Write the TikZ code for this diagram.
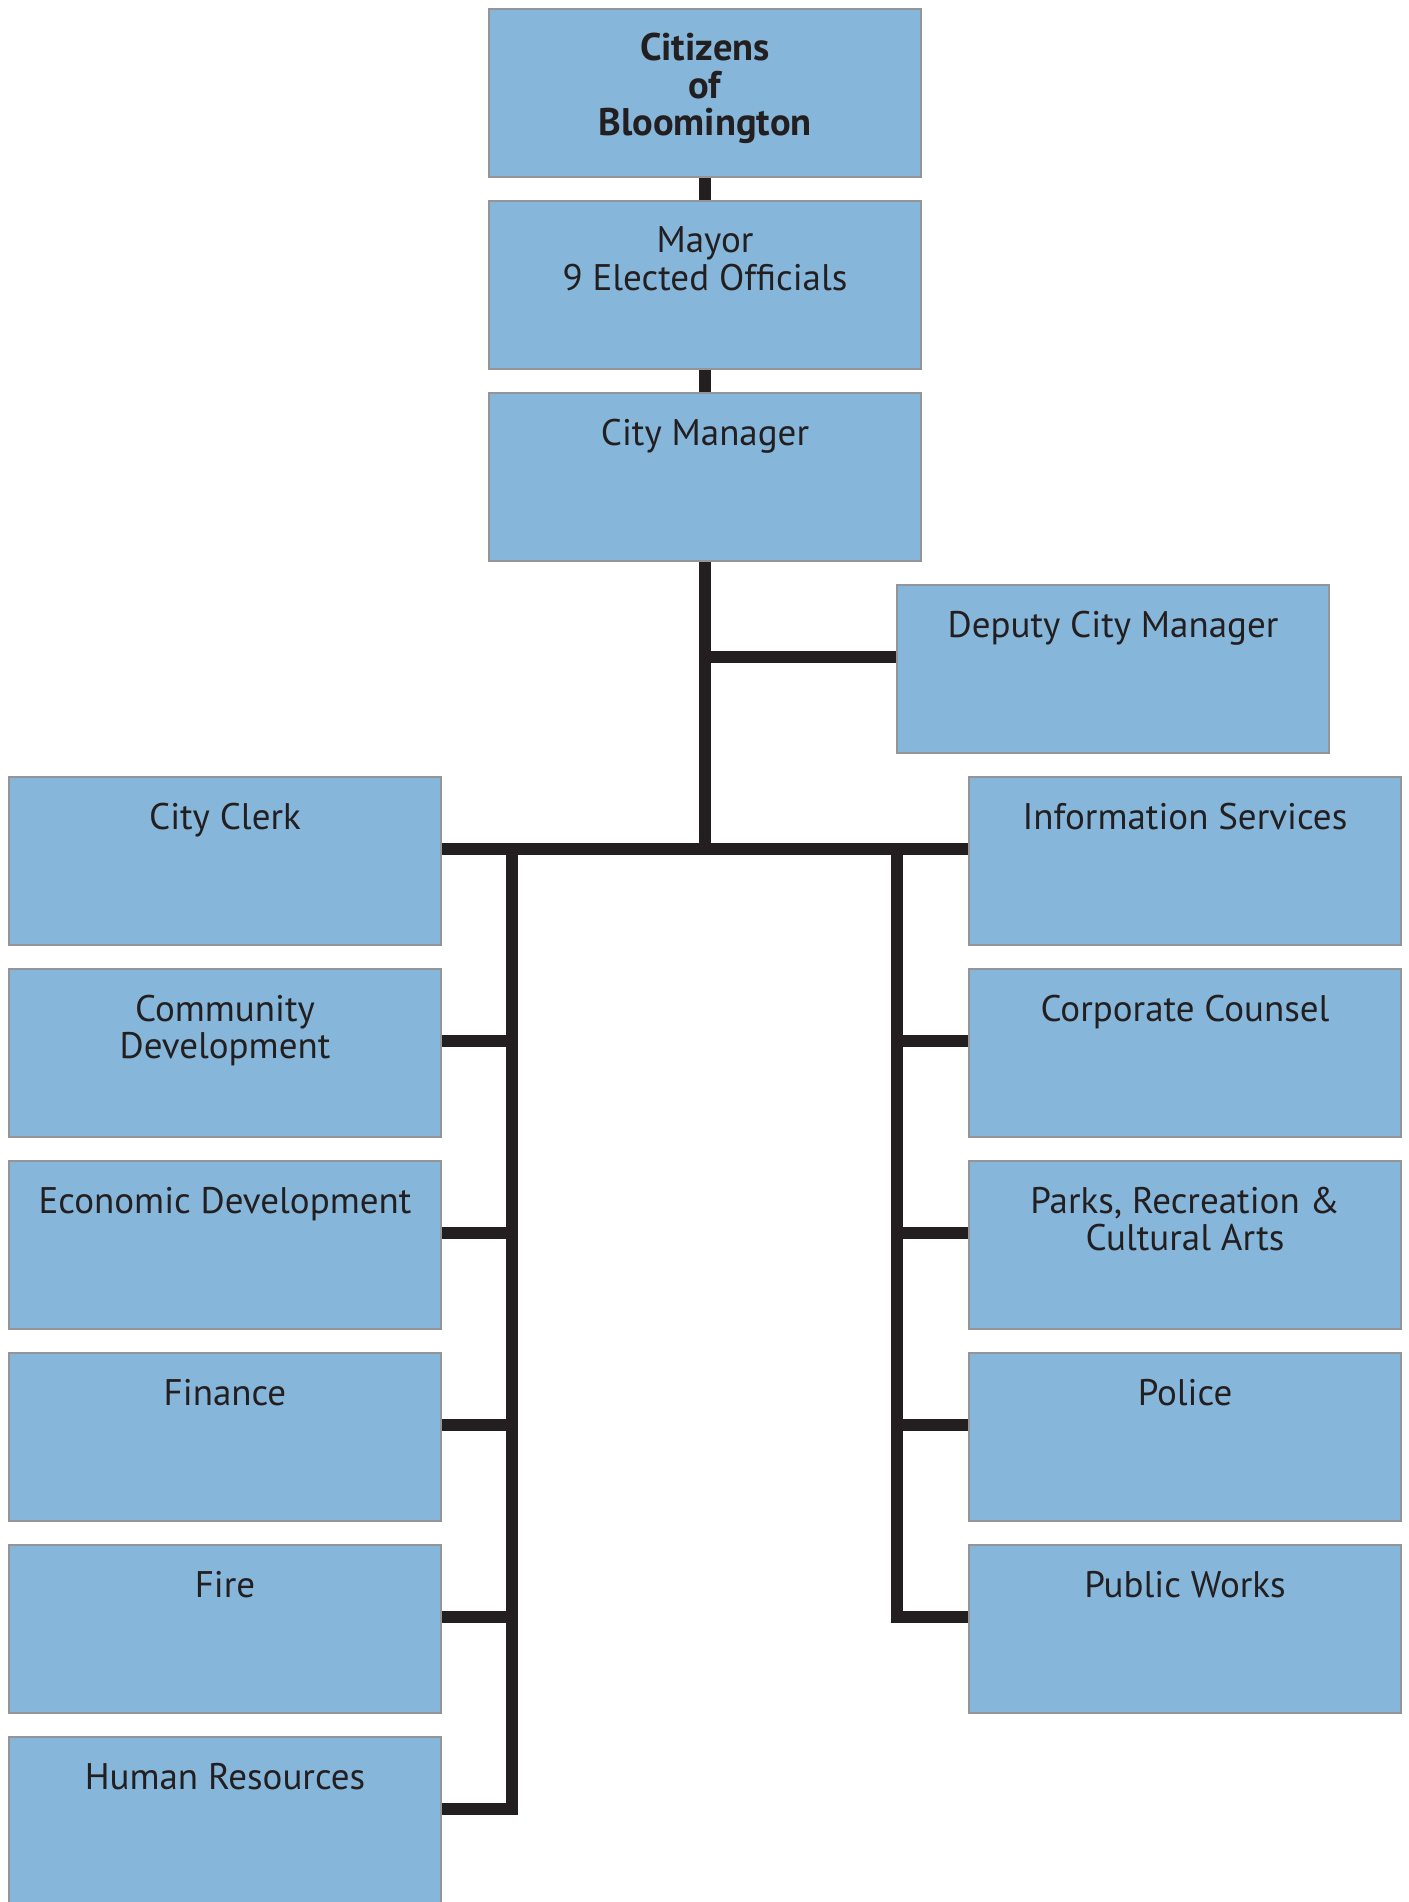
\documentclass[tikz,border=0pt]{standalone}
\usepackage{fontspec}
\setmainfont{PT Sans}
\usetikzlibrary{calc}
\definecolor{boxfill}{HTML}{86B7DB}
\definecolor{boxline}{HTML}{939598}
\definecolor{ink}{HTML}{231F20}
\pgfdeclarelayer{background}
\pgfsetlayers{background,main}
\newcommand\boxlines[1]{\vtop{\halign{\hfil##\hfil\cr#1\crcr}}}
\begin{document}
\begin{tikzpicture}[x=1pt,y=-1pt,
  box/.style={draw=boxline, line width=2.2pt, fill=boxfill, minimum width=432pt,
    minimum height=168pt, inner sep=0pt, outer sep=0pt, anchor=north west},
  lbl/.style={anchor=base, inner sep=0pt, text=ink, font=\fontsize{37}{37.5}\selectfont},
  conn/.style={draw=ink, line width=12.5pt},
]
\useasboundingbox (0,0) rectangle (1408,1902);
% boxes
\node[box] (cit) at (489,9) {};
\node[box] (mayor) at (489,201) {};
\node[box] (cm) at (489,393) {};
\node[box] (dep) at (897,585) {};
\node[box] (clerk) at (9,777) {};
\node[box] (comm) at (9,969) {};
\node[box] (econ) at (9,1161) {};
\node[box] (fin) at (9,1353) {};
\node[box] (fire) at (9,1545) {};
\node[box] (hr) at (9,1737) {};
\node[box] (info) at (969,777) {};
\node[box] (corp) at (969,969) {};
\node[box] (parks) at (969,1161) {};
\node[box] (police) at (969,1353) {};
\node[box] (pw) at (969,1545) {};
% labels
\node[lbl, font=\fontsize{38.5}{37.5}\selectfont\bfseries] (cit-t) at ($(cit.north)+(0,52)$) {\boxlines{Citizens\cr of\cr Bloomington}};
\node[lbl] (mayor-t) at ($(mayor.north)+(0,52)$) {\boxlines{Mayor\cr 9 Elected Officials}};
\node[lbl] (cm-t) at ($(cm.north)+(0,52)$) {City Manager};
\node[lbl] (dep-t) at ($(dep.north)+(0,52)$) {Deputy City Manager};
\node[lbl] (clerk-t) at ($(clerk.north)+(0,52)$) {City Clerk};
\node[lbl] (comm-t) at ($(comm.north)+(0,52)$) {\boxlines{Community\cr Development}};
\node[lbl] (econ-t) at ($(econ.north)+(0,52)$) {Economic Development};
\node[lbl] (fin-t) at ($(fin.north)+(0,52)$) {Finance};
\node[lbl] (fire-t) at ($(fire.north)+(0,52)$) {Fire};
\node[lbl] (hr-t) at ($(hr.north)+(0,52)$) {Human Resources};
\node[lbl] (info-t) at ($(info.north)+(0,52)$) {Information Services};
\node[lbl] (corp-t) at ($(corp.north)+(0,52)$) {Corporate Counsel};
\node[lbl] (parks-t) at ($(parks.north)+(0,52)$) {\boxlines{Parks, Recreation \&\cr Cultural Arts}};
\node[lbl] (police-t) at ($(police.north)+(0,52)$) {Police};
\node[lbl] (pw-t) at ($(pw.north)+(0,52)$) {Public Works};
% connector points
\coordinate (hub) at (705,849);
\coordinate (depj) at (705,657);
\coordinate (lv) at (512,849);
\coordinate (lvb) at (512,1809);
\coordinate (rv) at (897,849);
\coordinate (rvb) at (897,1617);
\begin{pgfonlayer}{background}
\draw[conn] (cit.south) -- (mayor.north);
\draw[conn] (mayor.south) -- (cm.north);
\draw[conn] (cm.south) -- (hub);
\draw[conn] (depj) -- (depj -| dep.west);
\draw[conn] (hub -| clerk.east) -- (hub -| info.west);
\draw[conn, line cap=rect] (lv) -- (lvb);
\draw[conn, line cap=rect] (rv) -- (rvb);
\foreach \b in {comm,econ,fin,fire,hr} {
  \coordinate (\b-s) at ($(\b.north east)+(0,72)$);
  \draw[conn] (\b-s) -- (\b-s -| lv);
}
\foreach \b in {corp,parks,police,pw} {
  \coordinate (\b-s) at ($(\b.north west)+(0,72)$);
  \draw[conn] (\b-s) -- (\b-s -| rv);
}
\end{pgfonlayer}
\end{tikzpicture}
\end{document}
